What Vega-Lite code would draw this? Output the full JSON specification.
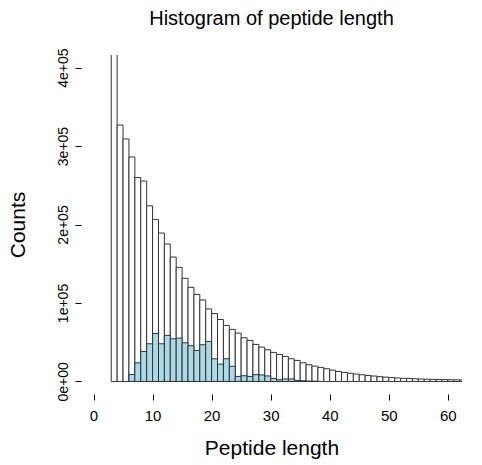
{
  "$schema": "https://vega.github.io/schema/vega-lite/v6.json",
  "width": 381,
  "height": 339,
  "autosize": {"type": "none"},
  "padding": {"left": 81, "top": 55, "right": 20, "bottom": 71},
  "background": "white",
  "config": {
    "view": {"stroke": null},
    "font": "Liberation Sans",
    "axis": {
      "labelFont": "Liberation Sans",
      "titleFont": "Liberation Sans",
      "labelColor": "#000",
      "titleColor": "#000",
      "tickColor": "#000",
      "grid": false,
      "domain": false,
      "titleFontWeight": "normal"
    }
  },
  "title": {
    "text": "Histogram of peptide length",
    "font": "Liberation Sans",
    "fontSize": 20,
    "fontWeight": "normal",
    "color": "#000",
    "anchor": "middle",
    "baseline": "alphabetic",
    "offset": 29,
    "dy": 26
  },
  "datasets": {
    "all": [
      {"start": 3, "end": 4, "count": 620000},
      {"start": 4, "end": 5, "count": 326800},
      {"start": 5, "end": 6, "count": 309000},
      {"start": 6, "end": 7, "count": 286000},
      {"start": 7, "end": 8, "count": 259800},
      {"start": 8, "end": 9, "count": 255400},
      {"start": 9, "end": 10, "count": 223800},
      {"start": 10, "end": 11, "count": 206500},
      {"start": 11, "end": 12, "count": 189100},
      {"start": 12, "end": 13, "count": 175100},
      {"start": 13, "end": 14, "count": 158500},
      {"start": 14, "end": 15, "count": 145400},
      {"start": 15, "end": 16, "count": 131400},
      {"start": 16, "end": 17, "count": 119900},
      {"start": 17, "end": 18, "count": 110900},
      {"start": 18, "end": 19, "count": 103800},
      {"start": 19, "end": 20, "count": 92400},
      {"start": 20, "end": 21, "count": 86500},
      {"start": 21, "end": 22, "count": 78900},
      {"start": 22, "end": 23, "count": 71400},
      {"start": 23, "end": 24, "count": 66300},
      {"start": 24, "end": 25, "count": 61600},
      {"start": 25, "end": 26, "count": 55700},
      {"start": 26, "end": 27, "count": 52300},
      {"start": 27, "end": 28, "count": 47200},
      {"start": 28, "end": 29, "count": 43700},
      {"start": 29, "end": 30, "count": 40400},
      {"start": 30, "end": 31, "count": 37000},
      {"start": 31, "end": 32, "count": 34400},
      {"start": 32, "end": 33, "count": 31900},
      {"start": 33, "end": 34, "count": 28900},
      {"start": 34, "end": 35, "count": 26800},
      {"start": 35, "end": 36, "count": 23800},
      {"start": 36, "end": 37, "count": 21300},
      {"start": 37, "end": 38, "count": 19500},
      {"start": 38, "end": 39, "count": 17900},
      {"start": 39, "end": 40, "count": 16200},
      {"start": 40, "end": 41, "count": 14400},
      {"start": 41, "end": 42, "count": 12750},
      {"start": 42, "end": 43, "count": 11500},
      {"start": 43, "end": 44, "count": 10450},
      {"start": 44, "end": 45, "count": 9400},
      {"start": 45, "end": 46, "count": 8500},
      {"start": 46, "end": 47, "count": 7650},
      {"start": 47, "end": 48, "count": 6900},
      {"start": 48, "end": 49, "count": 6100},
      {"start": 49, "end": 50, "count": 5500},
      {"start": 50, "end": 51, "count": 4900},
      {"start": 51, "end": 52, "count": 4400},
      {"start": 52, "end": 53, "count": 4000},
      {"start": 53, "end": 54, "count": 3700},
      {"start": 54, "end": 55, "count": 3400},
      {"start": 55, "end": 56, "count": 3100},
      {"start": 56, "end": 57, "count": 2850},
      {"start": 57, "end": 58, "count": 2650},
      {"start": 58, "end": 59, "count": 2450},
      {"start": 59, "end": 60, "count": 2300},
      {"start": 60, "end": 61, "count": 2150},
      {"start": 61, "end": 62, "count": 2000},
      {"start": 62, "end": 63, "count": 1900}
    ],
    "subset": [
      {"start": 6, "end": 7, "count": 8900},
      {"start": 7, "end": 8, "count": 23800},
      {"start": 8, "end": 9, "count": 38250},
      {"start": 9, "end": 10, "count": 48000},
      {"start": 10, "end": 11, "count": 61200},
      {"start": 11, "end": 12, "count": 48000},
      {"start": 12, "end": 13, "count": 58650},
      {"start": 13, "end": 14, "count": 54400},
      {"start": 14, "end": 15, "count": 55200},
      {"start": 15, "end": 16, "count": 49300},
      {"start": 16, "end": 17, "count": 45500},
      {"start": 17, "end": 18, "count": 39500},
      {"start": 18, "end": 19, "count": 46800},
      {"start": 19, "end": 20, "count": 51000},
      {"start": 20, "end": 21, "count": 28900},
      {"start": 21, "end": 22, "count": 22000},
      {"start": 22, "end": 23, "count": 28900},
      {"start": 23, "end": 24, "count": 19300},
      {"start": 24, "end": 25, "count": 6400},
      {"start": 25, "end": 26, "count": 7300},
      {"start": 26, "end": 27, "count": 6400},
      {"start": 27, "end": 28, "count": 8700},
      {"start": 28, "end": 29, "count": 8300},
      {"start": 29, "end": 30, "count": 7000},
      {"start": 30, "end": 31, "count": 3800},
      {"start": 31, "end": 32, "count": 2200},
      {"start": 32, "end": 33, "count": 3200},
      {"start": 33, "end": 34, "count": 3200},
      {"start": 34, "end": 35, "count": 1300},
      {"start": 35, "end": 36, "count": 900},
      {"start": 36, "end": 37, "count": 400},
      {"start": 37, "end": 38, "count": 300}
    ]
  },
  "layer": [
    {
      "data": {"name": "all"},
      "mark": {"type": "bar", "fill": "white", "stroke": "#333", "strokeWidth": 1, "clip": true},
      "encoding": {
        "x": {
          "field": "start",
          "type": "quantitative",
          "scale": {"domain": [-2.12, 62.4], "nice": false, "zero": false},
          "axis": {
            "values": [0, 10, 20, 30, 40, 50, 60],
            "tickSize": 6,
            "labelFontSize": 15,
            "labelPadding": 8,
            "title": "Peptide length",
            "titleFontSize": 21,
            "titlePadding": 14
          }
        },
        "x2": {"field": "end"},
        "y": {
          "field": "count",
          "type": "quantitative",
          "scale": {"domain": [-16000, 416000], "nice": false, "zero": false},
          "axis": {
            "values": [0, 100000, 200000, 300000, 400000],
            "labelExpr": "datum.value == 0 ? '0e+00' : format(datum.value / 100000, 'd') + 'e+05'",
            "labelAngle": -90,
            "labelAlign": "center",
            "labelBaseline": "bottom",
            "tickSize": 6,
            "labelFontSize": 14,
            "labelPadding": 5,
            "title": "Counts",
            "titleFontSize": 21,
            "titlePadding": 28
          }
        },
        "y2": {"datum": 0}
      }
    },
    {
      "data": {"name": "subset"},
      "mark": {"type": "bar", "fill": "#ADD8E6", "stroke": "#2a3538", "strokeWidth": 1, "clip": true},
      "encoding": {
        "x": {"field": "start", "type": "quantitative"},
        "x2": {"field": "end"},
        "y": {"field": "count", "type": "quantitative"},
        "y2": {"datum": 0}
      }
    },
    {
      "mark": {"type": "rule", "color": "#000", "strokeWidth": 1},
      "encoding": {
        "x": {"datum": 0, "type": "quantitative"},
        "x2": {"datum": 60},
        "y": {"datum": -16000, "type": "quantitative"}
      }
    },
    {
      "mark": {"type": "rule", "color": "#000", "strokeWidth": 1},
      "encoding": {
        "x": {"datum": -2.12, "type": "quantitative"},
        "y": {"datum": 0, "type": "quantitative"},
        "y2": {"datum": 400000}
      }
    }
  ]
}
